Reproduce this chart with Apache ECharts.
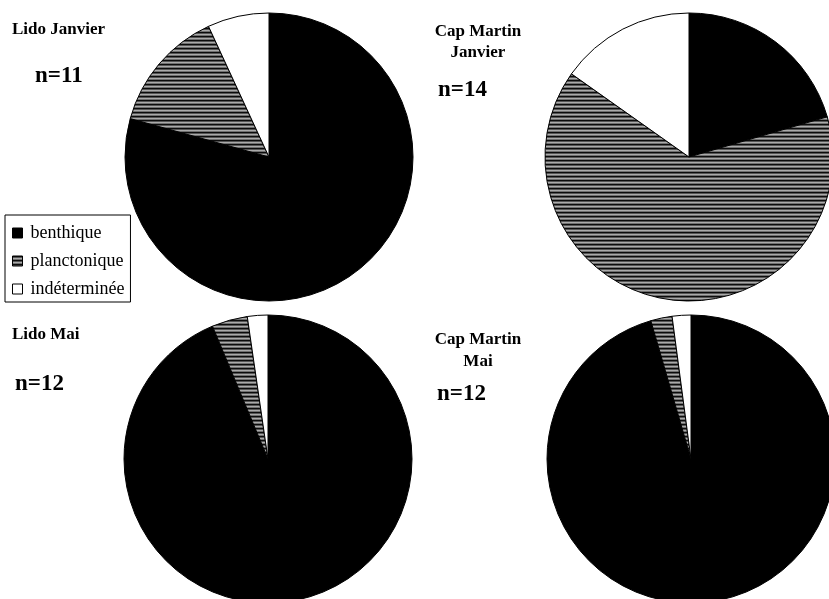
<!DOCTYPE html>
<html>
<head>
<meta charset="utf-8">
<script src="https://cdn.jsdelivr.net/npm/echarts@6/dist/echarts.min.js"></script>
<style>
html,body{margin:0;padding:0;background:#fff;}
#chart{width:829px;height:599px;}
</style>
</head>
<body>
<div id="chart"></div>
<script>
// ---- data ----
var categories = ['benthique', 'planctonique', 'indéterminée'];
var lidoJanvier = [79.3, 13.8, 6.9];
var capMartinJanvier = [20.5, 64.3, 15.2];
var lidoMai = [93.7, 4.0, 2.3];
var capMartinMai = [95.5, 2.4, 2.1];
var pieTitles = [['Lido Janvier'], ['Cap Martin', 'Janvier'], ['Lido Mai'], ['Cap Martin', 'Mai']];
var pieCounts = ['n=11', 'n=14', 'n=12', 'n=12'];

// ---- stripe pattern ----
var pc = document.createElement('canvas');
pc.width = 8; pc.height = 4;
var ctx = pc.getContext('2d');
var rows = ['#0c0c0c', '#555555', '#aaaaaa', '#707070'];
for (var i = 0; i < rows.length; i++) { ctx.fillStyle = rows[i]; ctx.fillRect(0, i, 8, 1); }
var stripe = { image: pc, repeat: 'repeat' };
var fills = ['#000000', stripe, '#ffffff'];

function mkData(vals) {
  return categories.map(function (c, i) {
    return { name: c, value: vals[i], itemStyle: { color: fills[i] } };
  });
}

var pies = [
  { vals: lidoJanvier, center: [269, 157] },
  { vals: capMartinJanvier, center: [689, 157] },
  { vals: lidoMai, center: [268, 459] },
  { vals: capMartinMai, center: [691, 459] }
];

var series = pies.map(function (p) {
  return {
    type: 'pie',
    center: p.center,
    radius: 144,
    startAngle: 90,
    clockwise: true,
    label: { show: false },
    labelLine: { show: false },
    emphasis: { disabled: true },
    itemStyle: { borderColor: '#000', borderWidth: 1 },
    data: mkData(p.vals)
  };
});

var serif = '"Liberation Serif", "Times New Roman", serif';
function txt(s, x, y, size, align) {
  return { type: 'text', x: x, y: y, style: { text: s, font: 'bold ' + size + 'px ' + serif, fill: '#000', textAlign: align, textVerticalAlign: 'middle' } };
}
var graphics = [
  txt(pieTitles[0][0], 12, 30, 17, 'left'),
  txt(pieCounts[0], 35, 76, 23, 'left'),
  txt(pieTitles[1][0], 478, 32, 17, 'center'),
  txt(pieTitles[1][1], 478, 53, 17, 'center'),
  txt(pieCounts[1], 438, 90, 23, 'left'),
  txt(pieTitles[2][0], 12, 335, 17, 'left'),
  txt(pieCounts[2], 15, 384, 23, 'left'),
  txt(pieTitles[3][0], 478, 340, 17, 'center'),
  txt(pieTitles[3][1], 478, 362, 17, 'center'),
  txt(pieCounts[3], 437, 394, 23, 'left')
];

var chart = echarts.init(document.getElementById('chart'), null, { renderer: 'canvas' });
chart.setOption({
  animation: false,
  backgroundColor: '#fff',
  legend: {
    orient: 'vertical',
    left: 5,
    top: 215,
    data: categories,
    icon: 'rect',
    itemWidth: 10,
    itemHeight: 10,
    itemGap: 8,
    padding: [8, 6, 3, 7],
    borderColor: '#000',
    borderWidth: 1,
    selectedMode: false,
    itemStyle: { borderColor: '#000', borderWidth: 1 },
    textStyle: { fontFamily: serif, fontSize: 18, lineHeight: 20, color: '#000', padding: [0, 0, 0, 3] }
  },
  series: series,
  graphic: graphics
});
</script>
</body>
</html>
